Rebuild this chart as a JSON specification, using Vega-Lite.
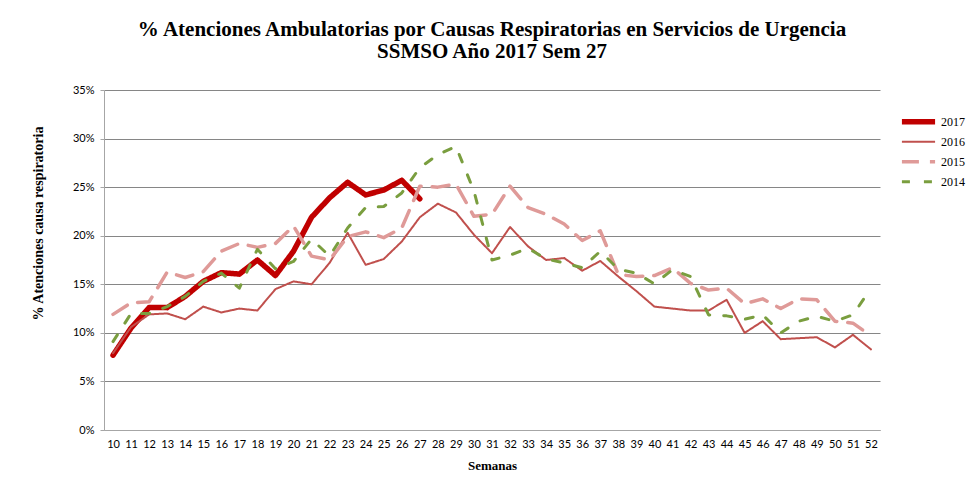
{
  "$schema": "https://vega.github.io/schema/vega-lite/v6.json",
  "width": 776,
  "height": 340,
  "autosize": "none",
  "padding": {"left": 104, "top": 90, "right": 86, "bottom": 69},
  "background": "white",
  "title": {
    "text": ["% Atenciones Ambulatorias por Causas Respiratorias en Servicios de Urgencia", "SSMSO Año 2017 Sem 27"],
    "font": "Liberation Serif",
    "fontSize": 21,
    "fontWeight": "bold",
    "lineHeight": 22,
    "color": "#000000",
    "anchor": "middle",
    "offset": 22
  },
  "config": {
    "view": {"stroke": null},
    "axis": {"labelFont": "Lato", "labelFontSize": 11, "labelColor": "#000000", "titleFont": "Liberation Serif", "titleFontWeight": "bold", "titleColor": "#000000", "titleFontSize": 13},
    "legend": {"title": null, "orient": "none", "legendX": 795, "legendY": 22, "symbolType": "stroke", "symbolSize": 1100, "labelFont": "Liberation Serif", "labelFontSize": 12, "labelColor": "#000000", "rowPadding": 0, "clipHeight": 19.5, "labelOffset": 3}
  },
  "data": {"values": [
    {"week": 10, "year": "2017", "value": 7.7},
    {"week": 11, "year": "2017", "value": 10.5},
    {"week": 12, "year": "2017", "value": 12.6},
    {"week": 13, "year": "2017", "value": 12.6},
    {"week": 14, "year": "2017", "value": 13.75},
    {"week": 15, "year": "2017", "value": 15.3},
    {"week": 16, "year": "2017", "value": 16.2},
    {"week": 17, "year": "2017", "value": 16.05},
    {"week": 18, "year": "2017", "value": 17.5},
    {"week": 19, "year": "2017", "value": 15.9},
    {"week": 20, "year": "2017", "value": 18.4},
    {"week": 21, "year": "2017", "value": 21.9},
    {"week": 22, "year": "2017", "value": 23.9},
    {"week": 23, "year": "2017", "value": 25.5},
    {"week": 24, "year": "2017", "value": 24.2},
    {"week": 25, "year": "2017", "value": 24.7},
    {"week": 26, "year": "2017", "value": 25.7},
    {"week": 27, "year": "2017", "value": 23.8},

    {"week": 10, "year": "2016", "value": 7.9},
    {"week": 11, "year": "2016", "value": 10.6},
    {"week": 12, "year": "2016", "value": 11.9},
    {"week": 13, "year": "2016", "value": 12.0},
    {"week": 14, "year": "2016", "value": 11.4},
    {"week": 15, "year": "2016", "value": 12.7},
    {"week": 16, "year": "2016", "value": 12.1},
    {"week": 17, "year": "2016", "value": 12.5},
    {"week": 18, "year": "2016", "value": 12.3},
    {"week": 19, "year": "2016", "value": 14.5},
    {"week": 20, "year": "2016", "value": 15.3},
    {"week": 21, "year": "2016", "value": 15.0},
    {"week": 22, "year": "2016", "value": 17.2},
    {"week": 23, "year": "2016", "value": 20.3},
    {"week": 24, "year": "2016", "value": 17.0},
    {"week": 25, "year": "2016", "value": 17.6},
    {"week": 26, "year": "2016", "value": 19.4},
    {"week": 27, "year": "2016", "value": 21.9},
    {"week": 28, "year": "2016", "value": 23.3},
    {"week": 29, "year": "2016", "value": 22.4},
    {"week": 30, "year": "2016", "value": 20.1},
    {"week": 31, "year": "2016", "value": 18.2},
    {"week": 32, "year": "2016", "value": 20.9},
    {"week": 33, "year": "2016", "value": 18.9},
    {"week": 34, "year": "2016", "value": 17.5},
    {"week": 35, "year": "2016", "value": 17.7},
    {"week": 36, "year": "2016", "value": 16.4},
    {"week": 37, "year": "2016", "value": 17.4},
    {"week": 38, "year": "2016", "value": 15.8},
    {"week": 39, "year": "2016", "value": 14.3},
    {"week": 40, "year": "2016", "value": 12.7},
    {"week": 41, "year": "2016", "value": 12.5},
    {"week": 42, "year": "2016", "value": 12.3},
    {"week": 43, "year": "2016", "value": 12.3},
    {"week": 44, "year": "2016", "value": 13.4},
    {"week": 45, "year": "2016", "value": 10.0},
    {"week": 46, "year": "2016", "value": 11.2},
    {"week": 47, "year": "2016", "value": 9.35},
    {"week": 48, "year": "2016", "value": 9.45},
    {"week": 49, "year": "2016", "value": 9.55},
    {"week": 50, "year": "2016", "value": 8.5},
    {"week": 51, "year": "2016", "value": 9.8},
    {"week": 52, "year": "2016", "value": 8.3},

    {"week": 10, "year": "2015", "value": 11.9},
    {"week": 11, "year": "2015", "value": 13.1},
    {"week": 12, "year": "2015", "value": 13.2},
    {"week": 13, "year": "2015", "value": 16.25},
    {"week": 14, "year": "2015", "value": 15.7},
    {"week": 15, "year": "2015", "value": 16.3},
    {"week": 16, "year": "2015", "value": 18.4},
    {"week": 17, "year": "2015", "value": 19.2},
    {"week": 18, "year": "2015", "value": 18.8},
    {"week": 19, "year": "2015", "value": 19.2},
    {"week": 20, "year": "2015", "value": 21.0},
    {"week": 21, "year": "2015", "value": 17.9},
    {"week": 22, "year": "2015", "value": 17.5},
    {"week": 23, "year": "2015", "value": 19.9},
    {"week": 24, "year": "2015", "value": 20.4},
    {"week": 25, "year": "2015", "value": 19.8},
    {"week": 26, "year": "2015", "value": 20.8},
    {"week": 27, "year": "2015", "value": 25.1},
    {"week": 28, "year": "2015", "value": 25.0},
    {"week": 29, "year": "2015", "value": 25.3},
    {"week": 30, "year": "2015", "value": 22.0},
    {"week": 31, "year": "2015", "value": 22.2},
    {"week": 32, "year": "2015", "value": 25.1},
    {"week": 33, "year": "2015", "value": 22.9},
    {"week": 34, "year": "2015", "value": 22.2},
    {"week": 35, "year": "2015", "value": 21.2},
    {"week": 36, "year": "2015", "value": 19.5},
    {"week": 37, "year": "2015", "value": 20.5},
    {"week": 38, "year": "2015", "value": 16.0},
    {"week": 39, "year": "2015", "value": 15.8},
    {"week": 40, "year": "2015", "value": 15.9},
    {"week": 41, "year": "2015", "value": 16.7},
    {"week": 42, "year": "2015", "value": 15.1},
    {"week": 43, "year": "2015", "value": 14.4},
    {"week": 44, "year": "2015", "value": 14.6},
    {"week": 45, "year": "2015", "value": 13.0},
    {"week": 46, "year": "2015", "value": 13.5},
    {"week": 47, "year": "2015", "value": 12.5},
    {"week": 48, "year": "2015", "value": 13.5},
    {"week": 49, "year": "2015", "value": 13.4},
    {"week": 50, "year": "2015", "value": 11.2},
    {"week": 51, "year": "2015", "value": 11.0},
    {"week": 52, "year": "2015", "value": 9.7},

    {"week": 10, "year": "2014", "value": 9.1},
    {"week": 11, "year": "2014", "value": 12.0},
    {"week": 12, "year": "2014", "value": 12.0},
    {"week": 13, "year": "2014", "value": 12.7},
    {"week": 14, "year": "2014", "value": 13.75},
    {"week": 15, "year": "2014", "value": 15.3},
    {"week": 16, "year": "2014", "value": 16.15},
    {"week": 17, "year": "2014", "value": 14.6},
    {"week": 18, "year": "2014", "value": 18.6},
    {"week": 19, "year": "2014", "value": 16.6},
    {"week": 20, "year": "2014", "value": 17.35},
    {"week": 21, "year": "2014", "value": 19.65},
    {"week": 22, "year": "2014", "value": 17.9},
    {"week": 23, "year": "2014", "value": 20.8},
    {"week": 24, "year": "2014", "value": 22.9},
    {"week": 25, "year": "2014", "value": 23.0},
    {"week": 26, "year": "2014", "value": 24.4},
    {"week": 27, "year": "2014", "value": 27.0},
    {"week": 28, "year": "2014", "value": 28.35},
    {"week": 29, "year": "2014", "value": 29.2},
    {"week": 30, "year": "2014", "value": 24.6},
    {"week": 31, "year": "2014", "value": 17.5},
    {"week": 32, "year": "2014", "value": 18.0},
    {"week": 33, "year": "2014", "value": 18.7},
    {"week": 34, "year": "2014", "value": 17.6},
    {"week": 35, "year": "2014", "value": 17.2},
    {"week": 36, "year": "2014", "value": 16.7},
    {"week": 37, "year": "2014", "value": 18.4},
    {"week": 38, "year": "2014", "value": 16.55},
    {"week": 39, "year": "2014", "value": 16.15},
    {"week": 40, "year": "2014", "value": 15.05},
    {"week": 41, "year": "2014", "value": 16.5},
    {"week": 42, "year": "2014", "value": 15.8},
    {"week": 43, "year": "2014", "value": 11.85},
    {"week": 44, "year": "2014", "value": 11.75},
    {"week": 45, "year": "2014", "value": 11.4},
    {"week": 46, "year": "2014", "value": 11.85},
    {"week": 47, "year": "2014", "value": 10.0},
    {"week": 48, "year": "2014", "value": 11.2},
    {"week": 49, "year": "2014", "value": 11.7},
    {"week": 50, "year": "2014", "value": 11.2},
    {"week": 51, "year": "2014", "value": 11.85},
    {"week": 52, "year": "2014", "value": 14.6}
  ]},
  "mark": {"type": "line", "strokeJoin": "round", "strokeCap": "round"},
  "encoding": {
    "x": {
      "field": "week", "type": "ordinal",
      "scale": {"type": "point", "padding": 0.5},
      "axis": {"title": "Semanas", "labelAngle": 0, "ticks": false, "labelPadding": 8, "domainColor": "#A6A6A6", "titlePadding": 10}
    },
    "y": {
      "field": "value", "type": "quantitative",
      "scale": {"domain": [0, 35], "nice": false},
      "axis": {"title": "% Atenciones  causa respiratoria", "titleFontSize": 14, "titleX": -59, "titleY": 133, "values": [0, 5, 10, 15, 20, 25, 30, 35], "labelExpr": "datum.value + '%'", "ticks": true, "tickSize": 4, "tickColor": "#A6A6A6", "domainColor": "#A6A6A6", "gridColor": "#868686", "gridWidth": 1, "labelPadding": 6}
    },
    "color": {
      "field": "year", "type": "nominal",
      "scale": {"domain": ["2017", "2016", "2015", "2014"], "range": ["#C00000", "#C0504D", "#DF9A98", "#7A9E3F"]}
    },
    "strokeDash": {
      "field": "year", "type": "nominal",
      "scale": {"domain": ["2017", "2016", "2015", "2014"], "range": [[1, 0], [1, 0], [17, 11], [8, 14]]}
    },
    "strokeWidth": {
      "field": "year", "type": "ordinal",
      "scale": {"type": "ordinal", "domain": ["2017", "2016", "2015", "2014"], "range": [5.5, 2, 3.5, 3]}
    }
  }
}
